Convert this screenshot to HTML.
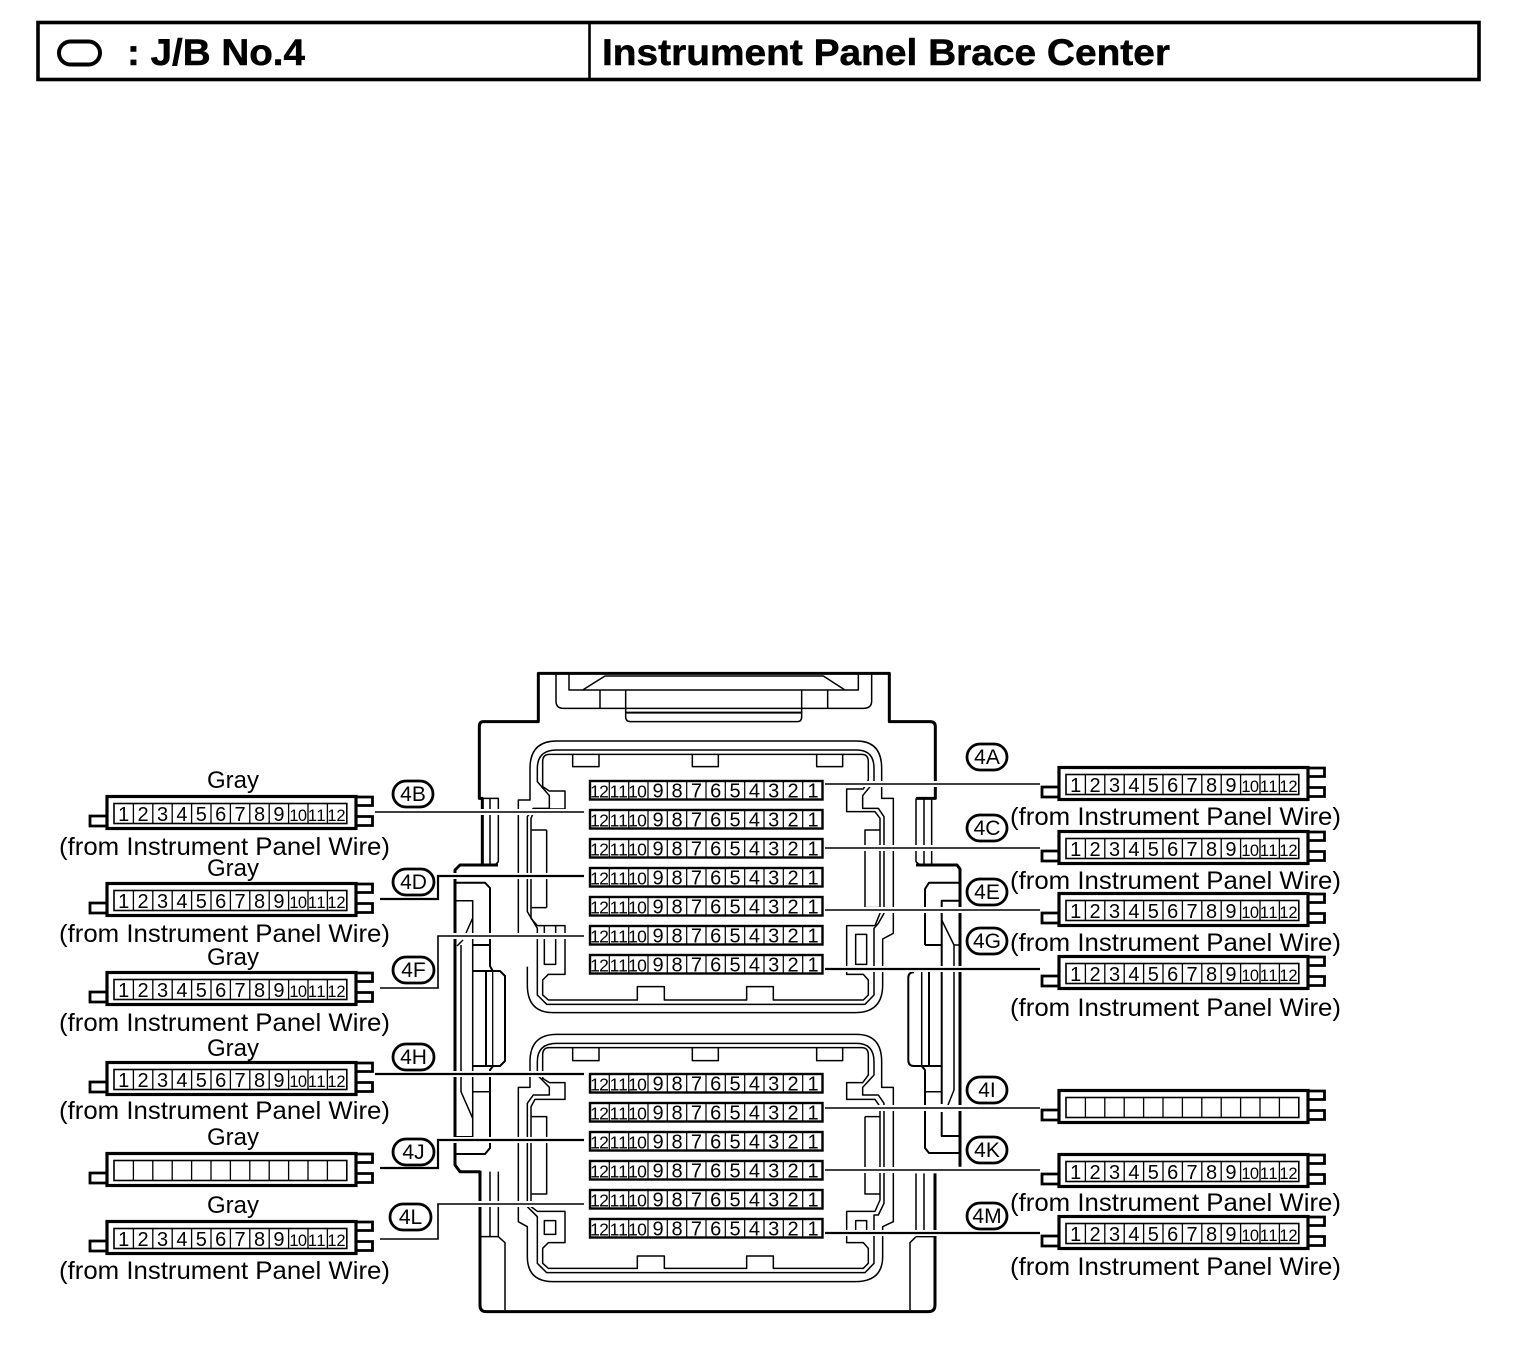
<!DOCTYPE html>
<html><head><meta charset="utf-8"><style>
html,body{margin:0;padding:0;background:#fff}
svg{display:block}
text{font-family:"Liberation Sans",sans-serif;fill:#000}
.d{font-size:20px;text-anchor:middle}
.s{font-size:17.500px}
.m{font-size:16.500px}
.l{font-size:25px}
.g{font-size:24px;text-anchor:middle}
.b{font-size:21px;text-anchor:middle}
.t{font-size:37px;font-weight:bold;stroke:#000;stroke-width:.5}
.th{fill:none;stroke:#000;stroke-width:4.5;stroke-linejoin:round}
.tk{fill:none;stroke:#000;stroke-width:9;stroke-linejoin:round}
.p{fill:#fff;stroke:#000;stroke-width:2.800}
</style></head><body>
<svg width="1520" height="1370" viewBox="0 0 1520 1370" xmlns="http://www.w3.org/2000/svg">
<defs>
<g id="c" fill="none" stroke="#000">
<path d="M356 797H372.5V805.5H356M356 816.500H372.500V825.500H356M106 816H90V826H106" stroke-width="2.800" fill="#fff"/>
<rect x="107" y="796.500" width="249" height="32" stroke-width="3.200" fill="#fff"/>
<rect x="114" y="803.500" width="232.800" height="20" stroke-width="1.600"/>
<path stroke-width="1.300" d="M133.400 803.500v20M152.800 803.500v20M172.200 803.500v20M191.600 803.500v20M211 803.500v20M230.400 803.500v20M249.800 803.500v20M269.200 803.500v20M288.600 803.500v20M308 803.500v20M327.400 803.500v20"/>
</g>
<g id="r" fill="none" stroke="#000">
<rect x="590" y="0" width="232.500" height="18.500" stroke-width="2.400" fill="#fff"/>
<path stroke-width="1.200" d="M609.300 0v18.500M628.700 0v18.500M648 0v18.500M667.300 0v18.500M686.700 0v18.500M706 0v18.500M725.300 0v18.500M744.700 0v18.500M764 0v18.500M783.300 0v18.500M802.700 0v18.500"/>
</g>
</defs>

<!-- Title -->
<rect x="38" y="22.500" width="1441" height="57" fill="none" stroke="#000" stroke-width="3.600"/>
<path d="M589.500 22V80" stroke="#000" stroke-width="2.600"/>
<rect x="59" y="41.500" width="41" height="23" rx="11.500" fill="none" stroke="#000" stroke-width="4"/>
<text class="t" x="127" y="65" textLength="178" lengthAdjust="spacingAndGlyphs">: J/B No.4</text>
<text class="t" x="602" y="65" textLength="568" lengthAdjust="spacingAndGlyphs">Instrument Panel Brace Center</text>

<!-- Housing upper (zoom-1 coordinates) -->
<g transform="translate(450,665) scale(.33333)">
<path class="tk" d="M97 600V400H88V185Q88 170 100 170H265V25H1318V170H1440Q1456 170 1456 185V400H1398"/>
<path class="th" d="M318 25V108Q318 130 340 130H1240Q1265 130 1265 108V25M357 25V75H1225V25M398 75L465 33H1120L1185 75M450 75V130M1133 75V130"/>
<path class="th" d="M527 75V155Q527 170 542 170H1042Q1055 170 1055 155V75"/>
<path class="tk" style="stroke-width:6" d="M527 143H1055"/>
<path class="th" d="M97 400H145V590L135 600M120 400V600M1398 400V590L1410 600M1422 400V600M1445 400V600"/>
<!-- upper port -->
<path class="th" d="M205 805V405H240V310Q240 228 320 228H1220Q1295 228 1295 310V400H1330V805L1298 822V960Q1298 1043 1215 1043H310Q232 1043 232 960V905"/>
<path class="th" d="M262 350V310Q262 255 320 255H1220Q1272 255 1272 310V350L1238 392V430H1285L1302 455V745L1285 775L1272 790V990L1245 1018H290L262 990V790L232 740V455L250 430H298V392Z"/>
<path class="th" d="M298 268H1235Q1255 268 1255 290V345L1240 372H1190V440H1275L1290 460V745L1275 782H1190V928H1240L1255 945V990L1240 1005H970V965H890V1005H643V965H562V1005H295L278 990V945L295 928H345V782H262L243 760V460L255 432H345V378H298L278 365V290Q278 268 298 268Z"/>
<path class="th" d="M368 268V305H447V268M727 268V305H805V268M1100 268V305H1178V268M290 495V728M245 495H290M245 728H290M1290 495H1245V728H1290M1217 808H1250V898H1217ZM283 782V898H317V782"/>
</g>
<!-- Housing lower (zoom-2 coordinates) -->
<g transform="translate(450,1000) scale(.33333)">
<path class="tk" d="M90 512V915Q90 935 108 935H1435Q1455 935 1455 915V520"/>
<path class="th" d="M120 515V710M145 515V710L165 728V930M90 710H145"/>
<path class="th" d="M1398 520V690M1422 520V690M1398 710H1455M1398 710L1380 728V930"/>
<!-- lower port -->
<path class="th" d="M205 262H240V185Q240 103 320 103H1220Q1295 103 1295 185V262H1330V665L1298 680V770Q1298 845 1215 845H310Q232 845 232 770V680L205 665Z"/>
<path class="th" d="M262 225V185Q262 130 320 130H1220Q1272 130 1272 185V225L1238 262V285H1285L1302 310V610L1285 645H1272V790L1245 818H290L262 790V650L232 620V310L250 285H298V262Z"/>
<path class="th" d="M298 143H1235Q1255 143 1255 165V225L1238 248H1190V298H1275L1290 320V600L1275 634H1190V728H1240L1255 745V790L1240 805H970V768H890V805H643V768H562V805H295L278 790V745L295 728H345V634H262L243 620V320L255 298H345V248H298L278 235V165Q278 143 298 143Z"/>
<path class="th" d="M368 143V182H447V143M727 143V182H805V143M1100 143V182H1178V143M1245 350H1290M1245 350V582H1290M245 350H290V582H245M283 662H317V703H283ZM1217 703V662H1250V703"/>
</g>

<!-- Side details (real coordinates) -->
<g fill="none" stroke="#000" stroke-linejoin="round">
<path stroke-width="3" d="M498 865H460L455 870V1165L460 1171.700H480"/>
<path stroke-width="2" d="M456 882.700H485L490 888V966L492.700 971H500L505 976V1061L500 1066H493L490 1070V1148L485 1154H456"/>
<path stroke-width="1.500" d="M456 900.700H472.700V918L466 933M463 940L457 946M461 945V1091.700L472.700 1118.300V1136.700H456M472.700 918V1118M472.700 1091.700H490"/>
<path stroke-width="2" d="M472.700 945H490M472.700 971H492M486 971V1066M472.700 1066H500"/>
<path stroke-width="1.300" d="M492.700 971V1066"/>

<path stroke-width="3" d="M916 865H957L960 869V1166.700"/>
<path stroke-width="2" d="M925 945V889L929 882.700H960"/>
<path stroke-width="2" d="M914 972.300Q908.300 972.300 908.300 978V1060Q908.300 1066 914 1066H921.700L925 1070V1148L929 1153H960"/>
<path stroke-width="2" d="M960 900.700H941.700V1104M941.700 1112V1136H960M925 945H941.700M929 972V1066M914 1066H941.700"/>
<path stroke-width="1.500" d="M941.700 920L954 945H960M954 945V1090L948 1105M925 1091.700H941.700M921.700 972V1066"/>
</g>

<!-- Leaders -->
<g fill="none" stroke="#fff" stroke-width="6">
<path d="M375 812H584M380 899H438V876H584M380 988H438V936H584M375 1074H584M380 1168H438V1140H584M380 1239H438V1204H584M825 784H1040M825 848H1040M825 910H1040M825 969H1040M825 1108H1040M825 1170H1040M825 1233H1040"/>
</g>
<g fill="none" stroke="#000" stroke-width="1.600">
<path d="M375 812H584M380 988H438V936H584M380 1239H438V1204H584M825 784H1040M825 848H1040M825 910H1040M825 1108H1040M825 1170H1040"/>
<path stroke-width="2.200" d="M380 899H438V876H584M375 1074H584M380 1168H438V1140H584M825 969H1040M825 1233H1040"/>
</g>

<!-- Center rows -->
<g class="rows">
<g transform="translate(0,781)"><use href="#r"/></g>
<g transform="translate(0,810)"><use href="#r"/></g>
<g transform="translate(0,839)"><use href="#r"/></g>
<g transform="translate(0,868)"><use href="#r"/></g>
<g transform="translate(0,897)"><use href="#r"/></g>
<g transform="translate(0,926)"><use href="#r"/></g>
<g transform="translate(0,955)"><use href="#r"/></g>
<g transform="translate(0,1074)"><use href="#r"/></g>
<g transform="translate(0,1103)"><use href="#r"/></g>
<g transform="translate(0,1132)"><use href="#r"/></g>
<g transform="translate(0,1161)"><use href="#r"/></g>
<g transform="translate(0,1190)"><use href="#r"/></g>
<g transform="translate(0,1219)"><use href="#r"/></g>
<text class="d" y="797.500" x="595 604 614.500 623 633 642 658 677 696.400 715.700 735 754.400 773.700 793 813"><tspan class="s">121110</tspan>987654321</text>
<text class="d" y="826.500" x="595 604 614.500 623 633 642 658 677 696.400 715.700 735 754.400 773.700 793 813"><tspan class="s">121110</tspan>987654321</text>
<text class="d" y="855.500" x="595 604 614.500 623 633 642 658 677 696.400 715.700 735 754.400 773.700 793 813"><tspan class="s">121110</tspan>987654321</text>
<text class="d" y="884.500" x="595 604 614.500 623 633 642 658 677 696.400 715.700 735 754.400 773.700 793 813"><tspan class="s">121110</tspan>987654321</text>
<text class="d" y="913.500" x="595 604 614.500 623 633 642 658 677 696.400 715.700 735 754.400 773.700 793 813"><tspan class="s">121110</tspan>987654321</text>
<text class="d" y="942.500" x="595 604 614.500 623 633 642 658 677 696.400 715.700 735 754.400 773.700 793 813"><tspan class="s">121110</tspan>987654321</text>
<text class="d" y="971.500" x="595 604 614.500 623 633 642 658 677 696.400 715.700 735 754.400 773.700 793 813"><tspan class="s">121110</tspan>987654321</text>
<text class="d" y="1090.500" x="595 604 614.500 623 633 642 658 677 696.400 715.700 735 754.400 773.700 793 813"><tspan class="s">121110</tspan>987654321</text>
<text class="d" y="1119.500" x="595 604 614.500 623 633 642 658 677 696.400 715.700 735 754.400 773.700 793 813"><tspan class="s">121110</tspan>987654321</text>
<text class="d" y="1148.500" x="595 604 614.500 623 633 642 658 677 696.400 715.700 735 754.400 773.700 793 813"><tspan class="s">121110</tspan>987654321</text>
<text class="d" y="1177.500" x="595 604 614.500 623 633 642 658 677 696.400 715.700 735 754.400 773.700 793 813"><tspan class="s">121110</tspan>987654321</text>
<text class="d" y="1206.500" x="595 604 614.500 623 633 642 658 677 696.400 715.700 735 754.400 773.700 793 813"><tspan class="s">121110</tspan>987654321</text>
<text class="d" y="1235.500" x="595 604 614.500 623 633 642 658 677 696.400 715.700 735 754.400 773.700 793 813"><tspan class="s">121110</tspan>987654321</text>
</g>

<!-- Left connectors -->
<g transform="translate(0,0)"><use href="#c"/><text class="d" y="821" x="123.700 143.100 162.500 181.900 201.300 220.700 240.100 259.500 278.900 294 302.500 312.500 321 332 341">123456789<tspan class="m">101112</tspan></text></g>
<g transform="translate(0,87)"><use href="#c"/><text class="d" y="821" x="123.700 143.100 162.500 181.900 201.300 220.700 240.100 259.500 278.900 294 302.500 312.500 321 332 341">123456789<tspan class="m">101112</tspan></text></g>
<g transform="translate(0,176)"><use href="#c"/><text class="d" y="821" x="123.700 143.100 162.500 181.900 201.300 220.700 240.100 259.500 278.900 294 302.500 312.500 321 332 341">123456789<tspan class="m">101112</tspan></text></g>
<g transform="translate(0,266)"><use href="#c"/><text class="d" y="821" x="123.700 143.100 162.500 181.900 201.300 220.700 240.100 259.500 278.900 294 302.500 312.500 321 332 341">123456789<tspan class="m">101112</tspan></text></g>
<g transform="translate(0,357)"><use href="#c"/></g>
<g transform="translate(0,425)"><use href="#c"/><text class="d" y="821" x="123.700 143.100 162.500 181.900 201.300 220.700 240.100 259.500 278.900 294 302.500 312.500 321 332 341">123456789<tspan class="m">101112</tspan></text></g>

<!-- Right connectors -->
<g transform="translate(952,-29)"><use href="#c"/><text class="d" y="821" x="123.700 143.100 162.500 181.900 201.300 220.700 240.100 259.500 278.900 294 302.500 312.500 321 332 341">123456789<tspan class="m">101112</tspan></text></g>
<g transform="translate(952,35)"><use href="#c"/><text class="d" y="821" x="123.700 143.100 162.500 181.900 201.300 220.700 240.100 259.500 278.900 294 302.500 312.500 321 332 341">123456789<tspan class="m">101112</tspan></text></g>
<g transform="translate(952,97)"><use href="#c"/><text class="d" y="821" x="123.700 143.100 162.500 181.900 201.300 220.700 240.100 259.500 278.900 294 302.500 312.500 321 332 341">123456789<tspan class="m">101112</tspan></text></g>
<g transform="translate(952,160)"><use href="#c"/><text class="d" y="821" x="123.700 143.100 162.500 181.900 201.300 220.700 240.100 259.500 278.900 294 302.500 312.500 321 332 341">123456789<tspan class="m">101112</tspan></text></g>
<g transform="translate(952,294)"><use href="#c"/></g>
<g transform="translate(952,358)"><use href="#c"/><text class="d" y="821" x="123.700 143.100 162.500 181.900 201.300 220.700 240.100 259.500 278.900 294 302.500 312.500 321 332 341">123456789<tspan class="m">101112</tspan></text></g>
<g transform="translate(952,420)"><use href="#c"/><text class="d" y="821" x="123.700 143.100 162.500 181.900 201.300 220.700 240.100 259.500 278.900 294 302.500 312.500 321 332 341">123456789<tspan class="m">101112</tspan></text></g>

<!-- Gray labels -->
<text class="g" x="233" y="788">Gray</text>
<text class="g" x="233" y="876">Gray</text>
<text class="g" x="233" y="965">Gray</text>
<text class="g" x="233" y="1056">Gray</text>
<text class="g" x="233" y="1145">Gray</text>
<text class="g" x="233" y="1213">Gray</text>

<!-- Wire labels -->
<text class="l" x="59" y="855" textLength="331" lengthAdjust="spacingAndGlyphs">(from Instrument Panel Wire)</text>
<text class="l" x="59" y="942" textLength="331" lengthAdjust="spacingAndGlyphs">(from Instrument Panel Wire)</text>
<text class="l" x="59" y="1031" textLength="331" lengthAdjust="spacingAndGlyphs">(from Instrument Panel Wire)</text>
<text class="l" x="59" y="1119" textLength="331" lengthAdjust="spacingAndGlyphs">(from Instrument Panel Wire)</text>
<text class="l" x="59" y="1279" textLength="331" lengthAdjust="spacingAndGlyphs">(from Instrument Panel Wire)</text>
<text class="l" x="1010" y="825" textLength="331" lengthAdjust="spacingAndGlyphs">(from Instrument Panel Wire)</text>
<text class="l" x="1010" y="889" textLength="331" lengthAdjust="spacingAndGlyphs">(from Instrument Panel Wire)</text>
<text class="l" x="1010" y="951" textLength="331" lengthAdjust="spacingAndGlyphs">(from Instrument Panel Wire)</text>
<text class="l" x="1010" y="1016" textLength="331" lengthAdjust="spacingAndGlyphs">(from Instrument Panel Wire)</text>
<text class="l" x="1010" y="1211" textLength="331" lengthAdjust="spacingAndGlyphs">(from Instrument Panel Wire)</text>
<text class="l" x="1010" y="1275" textLength="331" lengthAdjust="spacingAndGlyphs">(from Instrument Panel Wire)</text>

<!-- Badges -->
<rect class="p" x="393" y="781" width="40" height="26" rx="13"/><text class="b" x="413" y="801">4B</text>
<rect class="p" x="393" y="869" width="41" height="26" rx="13"/><text class="b" x="413.500" y="889">4D</text>
<rect class="p" x="393" y="957" width="41" height="26" rx="13"/><text class="b" x="413.500" y="977">4F</text>
<rect class="p" x="393" y="1044" width="41" height="26" rx="13"/><text class="b" x="413.500" y="1064">4H</text>
<rect class="p" x="393" y="1139" width="41" height="26" rx="13"/><text class="b" x="413.500" y="1159">4J</text>
<rect class="p" x="390" y="1204" width="41" height="26" rx="13"/><text class="b" x="410.500" y="1224">4L</text>
<rect class="p" x="967" y="744" width="40" height="26" rx="13"/><text class="b" x="987" y="764">4A</text>
<rect class="p" x="967" y="815" width="40" height="26" rx="13"/><text class="b" x="987" y="835">4C</text>
<rect class="p" x="967" y="879" width="40" height="26" rx="13"/><text class="b" x="987" y="899">4E</text>
<rect class="p" x="967" y="928" width="40" height="26" rx="13"/><text class="b" x="987" y="948">4G</text>
<rect class="p" x="967" y="1077" width="40" height="26" rx="13"/><text class="b" x="987" y="1097">4I</text>
<rect class="p" x="967" y="1137" width="40" height="26" rx="13"/><text class="b" x="987" y="1157">4K</text>
<rect class="p" x="967" y="1203" width="40" height="26" rx="13"/><text class="b" x="987" y="1223">4M</text>
</svg>
</body></html>
